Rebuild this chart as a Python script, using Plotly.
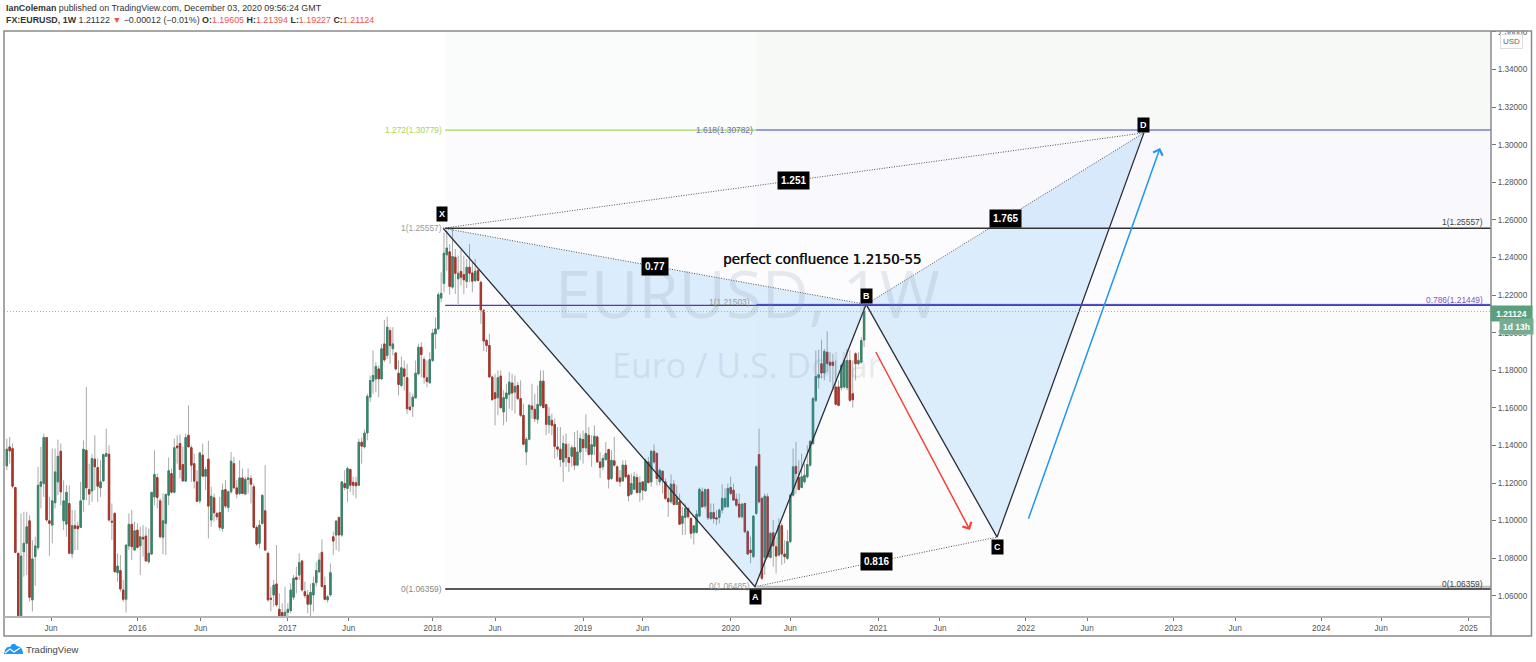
import pandas as pd
import plotly.graph_objects as go

# weekly EURUSD candles
opens = [
    1.1291,1.1392,1.1383,1.1176,1.0826,1.0480,1.0834,1.0879,1.0999,1.0578,
    1.0808,1.0856,1.1183,1.1197,1.1442,1.0999,1.0976,1.1095,1.1206,1.1369,
    1.0999,1.0981,1.1091,1.0824,1.0973,1.0971,1.0964,1.1112,1.1374,1.1165,
    1.1158,1.1327,1.1282,1.1174,1.1211,1.1342,1.1353,1.0997,1.1038,1.0723,
    1.0734,1.0631,1.0581,1.0865,1.0980,1.0843,1.0949,1.0865,1.0911,1.0918,
    1.0781,1.0822,1.1126,1.1229,1.1105,1.0911,1.0985,1.1135,1.1250,1.1151,
    1.1397,1.1410,1.1298,1.1210,1.1454,1.1388,1.1303,1.1206,1.1105,1.1348,
    1.1236,1.1327,1.1003,1.1121,1.1038,1.1043,1.0958,1.1165,1.1070,1.1153,
    1.1303,1.1174,1.1144,1.1227,1.1141,1.1219,1.1224,1.1180,1.0964,1.0879,
    1.0985,1.1052,1.0826,1.0587,1.0604,1.0663,1.0528,1.0511,1.0486,1.0511,
    1.0521,1.0592,1.0698,1.0710,1.0785,1.0622,1.0604,1.0555,1.0604,1.0670,
    1.0728,1.0831,1.0654,1.0578,1.0604,1.0914,1.0923,1.1017,1.0923,1.1197,
    1.1171,1.1272,1.1204,1.1201,1.1188,1.1417,1.1392,1.1466,1.1657,1.1742,
    1.1754,1.1807,1.1754,1.1940,1.1878,1.2011,1.1914,1.1892,1.1784,1.1719,
    1.1807,1.1760,1.1604,1.1607,1.1653,1.1781,1.1922,1.1857,1.1760,1.1733,
    1.1852,1.1993,1.2020,1.2184,1.2262,1.2414,1.2430,1.2242,1.2401,1.2286,
    1.2325,1.2309,1.2272,1.2348,1.2318,1.2277,1.2330,1.2268,1.2118,1.1959,
    1.1932,1.1764,1.1680,1.1654,1.1769,1.1578,1.1650,1.1672,1.1732,1.1684,
    1.1719,1.1649,1.1560,1.1365,1.1433,1.1610,1.1592,1.1539,1.1613,1.1742,
    1.1617,1.1510,1.1533,1.1512,1.1392,1.1380,1.1312,1.1406,1.1335,1.1342,
    1.1388,1.1295,1.1365,1.1431,1.1387,1.1454,1.1353,1.1395,1.1445,1.1312,
    1.1286,1.1325,1.1378,1.1224,1.1318,1.1286,1.1227,1.1211,1.1295,1.1241,
    1.1141,1.1167,1.1229,1.1149,1.1206,1.1158,1.1312,1.1206,1.1369,1.1357,
    1.1206,1.1263,1.1206,1.1118,1.1100,1.1194,1.1086,1.1100,1.0985,1.1017,
    1.1064,1.1011,1.0935,1.0937,1.1024,1.1153,1.1077,1.1165,1.1011,1.1043,
    1.1015,1.1017,1.1056,1.1073,1.1073,1.1176,1.1162,1.1114,1.1088,1.1020,
    1.1091,1.0941,1.0843,1.0808,1.1038,1.1351,1.1118,1.0804,1.1127,1.0804,
    1.0935,1.0861,1.0817,1.0973,1.0822,1.0799,1.0888,1.1135,1.1289,1.1229,
    1.1176,1.1206,1.1233,1.1295,1.1410,1.1640,1.1760,
    1.1835,1.1785,1.1896,1.1843,1.1843,1.1711,1.1711,1.1707,1.1711,1.1707,
    1.1852,1.1675,1.1888,1.1835,1.1843,1.19605,
]
highs = [
    1.1436,1.1445,1.1410,1.1180,1.0830,1.1038,1.1047,1.1047,1.1029,1.0896,
    1.0914,1.1286,1.1392,1.1463,1.1445,1.1126,1.1383,1.1383,1.1431,1.1410,
    1.1215,1.1188,1.1188,1.1056,1.1056,1.0994,1.1206,1.1427,1.1711,1.1303,
    1.1353,1.1454,1.1330,1.1321,1.1357,1.1489,1.1401,1.1091,1.1047,1.0826,
    1.0817,1.0684,1.0870,1.1038,1.1056,1.0994,1.0985,1.0967,1.0976,1.0967,
    1.0958,1.1153,1.1374,1.1250,1.1118,1.1144,1.1144,1.1335,1.1277,1.1436,
    1.1454,1.1459,1.1392,1.1463,1.1613,1.1401,1.1357,1.1268,1.1365,1.1410,
    1.1286,1.1424,1.1180,1.1144,1.1047,1.1126,1.1197,1.1215,1.1162,1.1365,
    1.1339,1.1215,1.1321,1.1277,1.1233,1.1277,1.1242,1.1197,1.0976,1.1003,
    1.1135,1.1295,1.0835,1.0649,1.0684,1.0870,1.0613,1.0560,1.0649,1.0560,
    1.0666,1.0710,1.0755,1.0826,1.0790,1.0675,1.0631,1.0666,1.0702,1.0781,
    1.0826,1.0900,1.0702,1.0604,1.0772,1.0941,1.1003,1.1020,1.1206,1.1268,
    1.1286,1.1277,1.1233,1.1233,1.1436,1.1442,1.1484,1.1675,1.1772,1.1905,
    1.1843,1.1825,1.1940,1.2068,1.2085,1.2029,1.2029,1.1896,1.1852,1.1873,
    1.1852,1.1834,1.1683,1.1675,1.1852,1.1940,1.1949,1.1873,1.1852,1.1896,
    1.2020,1.2082,1.2214,1.2321,1.2533,1.2542,1.2471,1.2552,1.2445,1.2410,
    1.2440,1.2410,1.2392,1.2472,1.2375,1.2392,1.2339,1.2277,1.2127,1.1967,
    1.1994,1.1772,1.1781,1.1799,1.1799,1.1693,1.1728,1.1790,1.1781,1.1772,
    1.1737,1.1746,1.1622,1.1445,1.1622,1.1728,1.1675,1.1719,1.1799,1.1799,
    1.1622,1.1604,1.1569,1.1542,1.1498,1.1498,1.1454,1.1463,1.1410,1.1401,
    1.1472,1.1480,1.1463,1.1480,1.1565,1.1498,1.1454,1.1507,1.1454,1.1365,
    1.1348,1.1418,1.1383,1.1374,1.1445,1.1295,1.1268,1.1321,1.1321,1.1250,
    1.1250,1.1259,1.1250,1.1236,1.1206,1.1330,1.1339,1.1374,1.1406,1.1365,
    1.1277,1.1268,1.1224,1.1180,1.1245,1.1215,1.1188,1.1144,1.1073,1.1091,
    1.1073,1.1020,1.0976,1.1056,1.1176,1.1176,1.1171,1.1171,1.1091,1.1091,
    1.1056,1.1064,1.1194,1.1171,1.1197,1.1233,1.1197,1.1144,1.1144,1.1091,
    1.1095,1.0950,1.0914,1.1029,1.1295,1.1489,1.1127,1.1144,1.1144,1.0941,
    1.1003,1.0914,1.1012,1.0985,1.0896,1.0950,1.1144,1.1383,1.1419,1.1321,
    1.1357,1.1304,1.1401,1.1427,1.1658,1.1905,1.1909,
    1.1962,1.1914,1.2008,1.1896,1.1888,1.1852,1.1746,1.1835,1.1861,1.1914,
    1.1905,1.1852,1.1896,1.1896,1.1976,1.21394,
]
lows = [
    1.1268,1.1303,1.1171,1.0826,1.0460,1.0460,1.0702,1.0710,1.0569,1.0516,
    1.0654,1.0843,1.1065,1.1126,1.0994,1.0813,1.0879,1.1065,1.1135,1.1082,
    1.0949,1.0914,1.0826,1.0799,1.0843,1.0843,1.1011,1.1047,1.1109,1.1082,
    1.1100,1.1162,1.1100,1.1126,1.1206,1.1339,1.0994,1.0896,1.0723,1.0675,
    1.0622,1.0569,1.0511,1.0843,1.0790,1.0843,1.0852,1.0710,1.0808,1.0781,
    1.0772,1.0817,1.1082,1.1065,1.0905,1.0820,1.0817,1.1082,1.1144,1.1144,
    1.1303,1.1224,1.1206,1.1206,1.1392,1.1206,1.1171,1.1100,1.1091,1.1233,
    1.1162,1.0905,1.0967,1.0994,1.1003,1.0946,1.0941,1.1065,1.1047,1.1144,
    1.1171,1.1118,1.1135,1.1144,1.1135,1.1144,1.1091,1.0958,1.0866,1.0852,
    1.0976,1.0840,1.0569,1.0516,1.0542,1.0542,1.0475,1.0460,1.0475,1.0479,
    1.0507,1.0578,1.0613,1.0684,1.0622,1.0587,1.0507,1.0481,1.0516,1.0649,
    1.0719,1.0645,1.0578,1.0564,1.0595,1.0817,1.0843,1.0835,1.0914,1.1162,
    1.1100,1.1153,1.1135,1.1118,1.1183,1.1303,1.1383,1.1427,1.1630,1.1675,
    1.1683,1.1657,1.1749,1.1843,1.1860,1.1834,1.1878,1.1799,1.1666,1.1710,
    1.1692,1.1568,1.1586,1.1551,1.1648,1.1772,1.1763,1.1728,1.1710,1.1728,
    1.1843,1.1914,1.2014,1.2161,1.2214,1.2330,1.2202,1.2233,1.2206,1.2153,
    1.2251,1.2206,1.2238,1.2268,1.2215,1.2268,1.2274,1.2047,1.1902,1.1897,
    1.1764,1.1640,1.1507,1.1560,1.1595,1.1507,1.1525,1.1595,1.1587,1.1569,
    1.1640,1.1551,1.1401,1.1295,1.1427,1.1542,1.1525,1.1516,1.1604,1.1599,
    1.1454,1.1463,1.1454,1.1330,1.1339,1.1286,1.1206,1.1286,1.1259,1.1286,
    1.1268,1.1295,1.1321,1.1303,1.1365,1.1348,1.1286,1.1348,1.1307,1.1227,
    1.1268,1.1318,1.1171,1.1215,1.1286,1.1206,1.1180,1.1206,1.1224,1.1103,
    1.1135,1.1162,1.1144,1.1100,1.1109,1.1153,1.1197,1.1180,1.1303,1.1188,
    1.1188,1.1144,1.1109,1.1020,1.1091,1.1082,1.1082,1.0976,1.0923,1.0923,
    1.1011,1.0905,1.0873,1.0932,1.1020,1.1070,1.1064,1.1003,1.1003,1.0985,
    1.0976,1.0985,1.1038,1.1068,1.1073,1.1135,1.1105,1.1073,1.1011,1.1011,
    1.0932,1.0817,1.0773,1.0799,1.1029,1.1091,1.0684,1.0711,1.0799,1.0799,
    1.0755,1.0719,1.0808,1.0764,1.0773,1.0790,1.0879,1.1127,1.1144,1.1162,
    1.1171,1.1197,1.1224,1.1286,1.1401,1.1631,1.1702,
    1.1755,1.1746,1.1790,1.1737,1.1693,1.1613,1.1608,1.1693,1.1702,1.1693,
    1.1631,1.1601,1.1746,1.1826,1.1835,1.19227,
]
closes = [
    1.1380,1.1371,1.1183,1.0831,1.0495,1.0811,1.0879,1.0967,1.0592,1.0796,
    1.0865,1.1188,1.1206,1.1442,1.1003,1.0985,1.1105,1.1259,1.1342,1.1153,
    1.1105,1.1150,1.0826,1.0973,1.0958,1.0957,1.1105,1.1380,1.1174,1.1141,
    1.1330,1.1286,1.1183,1.1206,1.1351,1.1357,1.1003,1.0992,1.0728,1.0758,
    1.0636,1.0581,1.0870,1.0980,1.0861,1.0946,1.0857,1.0914,1.0902,1.0785,
    1.0826,1.1150,1.1245,1.1123,1.0914,1.0999,1.1139,1.1265,1.1151,1.1388,
    1.1387,1.1272,1.1211,1.1442,1.1392,1.1295,1.1210,1.1102,1.1360,1.1236,
    1.1272,1.1077,1.1130,1.1042,1.1020,1.0964,1.1162,1.1077,1.1153,1.1316,
    1.1174,1.1141,1.1227,1.1144,1.1219,1.1227,1.1194,1.0964,1.0875,1.0976,
    1.1135,1.0843,1.0578,1.0581,1.0657,1.0551,1.0486,1.0480,1.0512,1.0528,
    1.0631,1.0693,1.0687,1.0776,1.0631,1.0601,1.0555,1.0618,1.0666,1.0734,
    1.0790,1.0649,1.0581,1.0595,1.0723,1.0891,1.0997,1.0923,1.1206,1.1176,
    1.1277,1.1188,1.1188,1.1185,1.1417,1.1396,1.1466,1.1661,1.1745,1.1772,
    1.1820,1.1754,1.1914,1.1855,1.2029,1.1931,1.1940,1.1807,1.1724,1.1813,
    1.1768,1.1595,1.1590,1.1657,1.1784,1.1922,1.1883,1.1763,1.1740,1.1857,
    1.1998,1.2020,1.2202,1.2209,1.2423,1.2450,1.2246,1.2405,1.2316,1.2316,
    1.2295,1.2281,1.2348,1.2316,1.2274,1.2327,1.2277,1.2121,1.1955,1.1932,
    1.1764,1.1643,1.1649,1.1760,1.1601,1.1654,1.1679,1.1737,1.1679,1.1714,
    1.1649,1.1560,1.1406,1.1433,1.1613,1.1592,1.1542,1.1618,1.1742,1.1601,
    1.1512,1.1555,1.1507,1.1395,1.1380,1.1325,1.1410,1.1335,1.1309,1.1388,
    1.1295,1.1365,1.1436,1.1388,1.1463,1.1351,1.1404,1.1449,1.1312,1.1282,
    1.1330,1.1357,1.1220,1.1321,1.1295,1.1210,1.1206,1.1295,1.1233,1.1132,
    1.1197,1.1233,1.1149,1.1201,1.1162,1.1318,1.1202,1.1369,1.1312,1.1224,
    1.1268,1.1215,1.1118,1.1100,1.1194,1.1086,1.1126,1.0981,1.1024,1.1064,
    1.1020,1.0932,1.0972,1.1034,1.1167,1.1073,1.1165,1.1015,1.1043,1.1011,
    1.1008,1.1056,1.1118,1.1118,1.1171,1.1144,1.1109,1.1082,1.1020,1.1088,
    1.0941,1.0822,1.0829,1.1024,1.1286,1.1100,1.0693,1.1130,1.0808,1.0932,
    1.0865,1.0811,1.0973,1.0822,1.0808,1.0888,1.1135,1.1286,1.1250,1.1165,
    1.1233,1.1241,1.1298,1.1422,1.1649,1.1767,1.1776,
    1.1785,1.1900,1.1835,1.1826,1.1826,1.1619,1.1613,1.1826,1.1852,1.1852,
    1.1640,1.1643,1.1835,1.1852,1.1958,1.21124,
]
dates = pd.date_range(end="2020-11-30", periods=len(closes), freq="7D")

# harmonic pattern points
point_names = ["X", "A", "B", "C", "D"]
point_dates = ["2018-01-27", "2020-03-06", "2020-12-05", "2021-10-24", "2022-10-21"]
point_prices = [1.25557, 1.06485, 1.21503, 1.0912, 1.3063]

# ratio labels sit half way along these legs
ratio_legs = [("X", "D", "1.251"), ("X", "B", "0.77"), ("B", "D", "1.765"), ("A", "C", "0.816")]

fib_start = "2018-02-01"
fib2_start = "2020-03-09"
x_range = ["2015-02-09", "2025-02-23"]
y_range = [1.0487, 1.3605]
y_ticks = [1.06, 1.08, 1.10, 1.12, 1.14, 1.16, 1.18, 1.20, 1.22, 1.24, 1.26, 1.28, 1.30, 1.32, 1.34, 1.36]
x_ticks = [
    "2015-06-05", "2016-01-04", "2016-06-08", "2017-01-08", "2017-06-08", "2018-01-01", "2018-06-04",
    "2019-01-07", "2019-06-03", "2020-01-06", "2020-06-01", "2021-01-04", "2021-06-05", "2022-01-03",
    "2022-06-03", "2023-01-02", "2023-06-03", "2024-01-01", "2024-05-28", "2024-12-30",
]
x_labels = [
    "Jun", "2016", "Jun", "2017", "Jun", "2018", "Jun", "2019", "Jun", "2020", "Jun",
    "2021", "Jun", "2022", "Jun", "2023", "Jun", "2024", "Jun", "2025",
]

GREEN = "#38846a"
RED = "#a8352a"
FONT = "Liberation Sans"
W, H = 1536, 662
L, R, T, B = 4, 45, 31, 45
where = {n: (d, p) for n, d, p in zip(point_names, point_dates, point_prices)}


def fx(px):
    return (px - L) / (W - L - R)


def fy(py):
    return 1 - (py - T) / (H - T - B)


fig = go.Figure()

# wicks first, then bodies on top so the wicks can stay grey
fig.add_trace(go.Candlestick(
    x=dates, open=opens, high=highs, low=lows, close=closes, hoverinfo="skip", whiskerwidth=0,
    increasing=dict(line=dict(color="#a9a9a9", width=1), fillcolor="#c8c8c8"),
    decreasing=dict(line=dict(color="#a9a9a9", width=1), fillcolor="#c8c8c8"),
))
fig.add_trace(go.Candlestick(
    x=dates, open=opens, close=closes,
    high=[max(o, c) for o, c in zip(opens, closes)],
    low=[min(o, c) for o, c in zip(opens, closes)],
    hoverinfo="skip",
    increasing=dict(line=dict(color=GREEN, width=1), fillcolor=GREEN),
    decreasing=dict(line=dict(color=RED, width=1), fillcolor=RED),
))

# filled wings of the pattern
for leg in (["X", "A", "B", "X"], ["B", "C", "D", "B"]):
    fig.add_trace(go.Scatter(
        x=[where[n][0] for n in leg], y=[where[n][1] for n in leg],
        mode="lines", fill="toself", fillcolor="rgba(33,150,243,0.15)", line=dict(width=0), hoverinfo="skip",
    ))
fig.add_trace(go.Scatter(
    x=point_dates, y=point_prices, mode="lines", line=dict(color="#2a2e39", width=1.3), hoverinfo="skip",
))
for a, b in [("X", "B"), ("X", "D"), ("B", "D"), ("A", "C")]:
    fig.add_trace(go.Scatter(
        x=[where[a][0], where[b][0]], y=[where[a][1], where[b][1]], mode="lines",
        line=dict(color="#555", width=1, dash="1px,1.5px"), hoverinfo="skip",
    ))

shapes = []


def band(x0, y0, y1, color):
    shapes.append(dict(type="rect", layer="below", x0=x0, x1=x_range[1], y0=y0, y1=y1,
                       fillcolor=color, line_width=0))


def hline(x0, x1, y, color, width, dash="solid"):
    shapes.append(dict(type="line", x0=x0, x1=x1, y0=y, y1=y, line=dict(color=color, width=width, dash=dash)))


band(fib_start, 1.30779, y_range[1], "#fafbfb")
band(fib2_start, 1.30782, y_range[1], "#f7f9f6")
band(fib_start, 1.25557, 1.30779, "#fbfbfe")
band(fib2_start, 1.25557, 1.30782, "#f8f8fd")
band(fib_start, 1.21449, 1.25557, "#fcfcfe")
band(fib_start, 1.06359, 1.21449, "#fdfdfd")
band(fib2_start, 1.06485, 1.21503, "#fcfcfc")

hline(x_range[0], x_range[1], 1.21124, "#8fc2a6", 1, "1px,2px")
hline(fib_start, fib2_start, 1.30779, "#a5d655", 1.2)
hline(fib2_start, x_range[1], 1.30782, "#3f3fc8", 1.2)
hline(fib_start, x_range[1], 1.25557, "#333333", 1.5)
hline(fib_start, x_range[1], 1.21449, "#5e35b1", 1.2)
hline(fib2_start, x_range[1], 1.21503, "#4545c0", 1)
hline(fib2_start, x_range[1], 1.06485, "#bdbdbd", 2)
hline(fib_start, x_range[1], 1.06359, "#222222", 1.5)

# chart frame and the strip that clips the top tick label
shapes.append(dict(type="rect", xref="paper", yref="paper", layer="above",
                   x0=1, x1=fx(1536), y0=1.0005, y1=fy(20), fillcolor="white", line_width=0))
shapes.append(dict(type="rect", xref="paper", yref="paper", layer="above",
                   x0=0, x1=fx(1531.5), y0=fy(636), y1=1, line=dict(color="#8a8a8a", width=1.5)))
shapes.append(dict(type="line", xref="paper", yref="paper", layer="above",
                   x0=1, x1=1, y0=fy(636), y1=1, line=dict(color="#8a8a8a", width=1.5)))
shapes.append(dict(type="line", xref="paper", yref="paper", layer="above",
                   x0=0, x1=1, y0=0, y1=0, line=dict(color="#b4b4b4", width=2)))
# TradingView logo
shapes.append(dict(type="path", xref="paper", yref="paper", fillcolor="#2196f3", line_width=0,
                   path="M {:.5f},{:.5f} L {:.5f},{:.5f} Q {:.5f},{:.5f} {:.5f},{:.5f} Q {:.5f},{:.5f} {:.5f},{:.5f} "
                        "Q {:.5f},{:.5f} {:.5f},{:.5f} Z".format(
                            fx(4), fy(654), fx(5), fy(650), fx(7), fy(646), fx(10), fy(647),
                            fx(13), fy(641), fx(17), fy(646), fx(23), fy(647), fx(23), fy(654))))
shapes.append(dict(type="path", xref="paper", yref="paper", line=dict(color="white", width=1.2),
                   path="M {:.5f},{:.5f} L {:.5f},{:.5f} L {:.5f},{:.5f} L {:.5f},{:.5f}".format(
                       fx(5), fy(653), fx(10), fy(649), fx(14), fy(652), fx(20), fy(648))))

ann = []


def text(x, y, s, size=8.4, color="#444", xanchor="center", yanchor="middle", xref="x", yref="y", **kw):
    font = dict(size=size, color=color, family=kw.pop("family", FONT))
    if "shadow" in kw:
        font["shadow"] = kw.pop("shadow")
    ann.append(dict(x=x, y=y, text=s, xref=xref, yref=yref, showarrow=False, xanchor=xanchor, yanchor=yanchor,
                    font=font, **kw))


def ptext(px, py, s, size=8.4, color="#444", xanchor="left", **kw):
    text(fx(px), fy(py), s, size, color, xanchor, xref="paper", yref="paper", **kw)


# watermark
ptext(747, 293, "EURUSD, 1W", 65, "rgba(120,135,155,0.17)", "center", family="Open Sans")
ptext(747, 365, "Euro / U.S. Dollar", 34, "rgba(120,135,155,0.17)", "center", family="Open Sans")

# fib labels
text(fib_start, 1.30779, "1.272(1.30779)", color="#a5d655", xanchor="right", xshift=-1)
text(fib2_start, 1.30782, "1.618(1.30782)", color="#6a6ac4", xanchor="right", xshift=-1)
text(fib_start, 1.25557, "1(1.25557)", color="#999", xanchor="right", xshift=-1)
text(fib2_start, 1.21503, "1(1.21503)", color="#999", xanchor="right", xshift=-4, yshift=2)
text(fib_start, 1.06359, "0(1.06359)", color="#888", xanchor="right", xshift=-1)
text(fib2_start, 1.06485, "0(1.06485)", color="#999", xanchor="right", xshift=-4, yshift=1)
ptext(1485, 222, "1(1.25557)", color="#444", xanchor="right")
ptext(1485, 300, "0.786(1.21449)", color="#7e57c2", xanchor="right")
ptext(1485, 584, "0(1.06359)", color="#444", xanchor="right")

# point and ratio tags
tag_offset = {"X": 14, "A": -10, "B": 8, "C": -10, "D": 8}
for n in point_names:
    d, p = where[n]
    text(d, p, "<b>" + n + "</b>", 9, "white", yshift=tag_offset[n], bgcolor="#000", borderpad=2,
         xshift=-1 if n == "X" else 0)
for a, b, s in ratio_legs:
    mid_x = pd.Timestamp(where[a][0]) + (pd.Timestamp(where[b][0]) - pd.Timestamp(where[a][0])) / 2
    mid_y = (where[a][1] + where[b][1]) / 2
    text(mid_x, mid_y, "<b>" + s + "</b>", 10, "white", bgcolor="#000", borderpad=3)

ptext(721, 259, "perfect confluence 1.2150-55", 13.4, "#111", family="DejaVu Sans", shadow="0.5px 0 0 #111")

# arrows
ann.append(dict(x="2021-08-18", y=1.0950, ax="2020-12-27", ay=1.1905, xref="x", yref="y", axref="x", ayref="y",
                text="", showarrow=True, arrowhead=4, arrowsize=1.3, arrowwidth=1.5, arrowcolor="#f44336"))
ann.append(dict(x="2022-11-30", y=1.2983, ax="2022-01-08", ay=1.1002, xref="x", yref="y", axref="x", ayref="y",
                text="", showarrow=True, arrowhead=4, arrowsize=1.3, arrowwidth=1.5, arrowcolor="#2196f3"))

# price axis extras
ptext(1512, 313, "<b>1.21124</b>", 8.5, "white", "center", bgcolor="#5c9f7c", width=39, height=13)
ptext(1516, 326, "<b>1d 13h</b>", 8.5, "white", "center", bgcolor="#76ad90", width=31, height=13)
ptext(1511, 42, "USD", 8, "#666", "center", bordercolor="#ddd", borderwidth=1, borderpad=2, bgcolor="white")

# header and footer
ptext(4, 8, "<b>IanColeman</b> published on TradingView.com, December 03, 2020 09:56:24 GMT", 8.9, "#333")
R_ = "<span style='color:#ef5350'>{}</span>"
ptext(4, 20, "<b>FX:EURUSD, 1W</b> 1.21122 " + R_.format("▼") + " −0.00012 (−0.01%) <b>O:</b>" + R_.format("1.19605")
      + " <b>H:</b>" + R_.format("1.21394") + " <b>L:</b>" + R_.format("1.19227") + " <b>C:</b>" + R_.format("1.21124"),
      8.9, "#333")
ptext(24, 649, "TradingView", 9.5, "#444")

fig.update_layout(
    width=W, height=H,
    margin=dict(l=L, r=R, t=T, b=B, autoexpand=False),
    paper_bgcolor="white", plot_bgcolor="white",
    showlegend=False,
    shapes=shapes, annotations=ann,
    font=dict(family=FONT, size=8, color="#555"),
    xaxis=dict(
        range=x_range, rangeslider=dict(visible=False), showgrid=False, zeroline=False,
        tickmode="array", tickvals=x_ticks, ticktext=x_labels, ticks="outside", ticklen=3,
        tickcolor="#777", tickfont=dict(size=8.2, color="#555"),
    ),
    yaxis=dict(
        side="right", range=y_range, showgrid=False, zeroline=False,
        tickmode="array", tickvals=y_ticks, tickformat=".5f", ticks="outside", ticklen=4,
        tickcolor="#777", tickfont=dict(size=8.2, color="#555"),
    ),
)

fig.write_html("out.html", config={"displayModeBar": False}, post_script="document.body.style.margin='0';")
